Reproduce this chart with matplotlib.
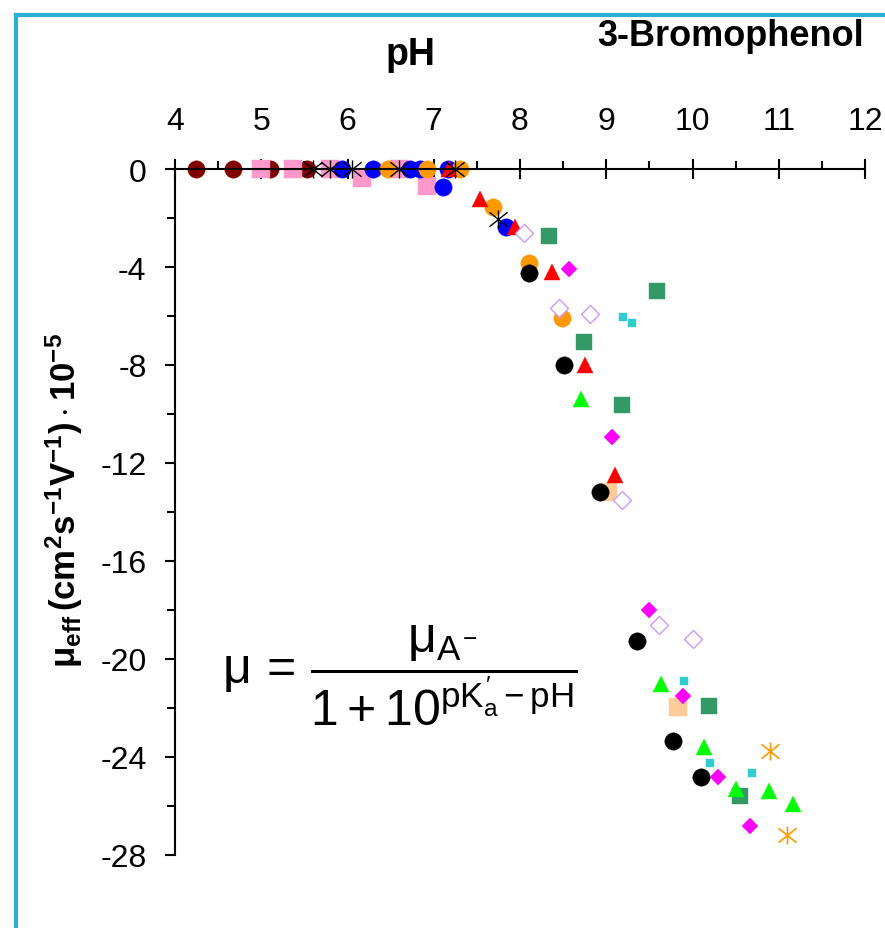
import matplotlib
matplotlib.use("Agg")
import matplotlib.pyplot as plt
from matplotlib.lines import Line2D
from matplotlib.path import Path
from matplotlib.ticker import MultipleLocator

plt.rcParams['font.family'] = ['Liberation Sans', 'DejaVu Sans']
plt.rcParams['mathtext.fontset'] = 'custom'
plt.rcParams['mathtext.rm'] = 'Liberation Sans'
plt.rcParams['mathtext.it'] = 'Liberation Sans'
plt.rcParams['mathtext.bf'] = 'Liberation Sans:bold'

# effective mobility (x1e-5 cm2/Vs) vs pH, one list pair per measurement set
darkred_ph = [4.24, 4.67, 5.10, 5.53]
darkred_mu = [0, 0, 0, 0]

pink_ph = [5.0, 5.37, 5.8, 6.17, 6.6, 6.92]
pink_mu = [0, 0, 0, -0.37, 0, -0.7]

blue_ph = [5.94, 6.3, 6.73, 6.84, 7.17, 7.11, 7.84]
blue_mu = [0, 0, 0, 0, 0, -0.73, -2.37]

orange_ph = [6.47, 6.92, 7.3, 7.69, 8.1, 8.49]
orange_mu = [0, 0, 0, -1.57, -3.83, -6.1]

peach_ph = [9.02, 9.83]
peach_mu = [-13.2, -21.97]

black_ph = [8.1, 8.51, 8.93, 9.36, 9.77, 10.1]
black_mu = [-4.24, -8.0, -13.2, -19.26, -23.35, -24.8]

red_ph = [7.18, 7.54, 7.94, 8.37, 8.75, 9.1]
red_mu = [0, -1.22, -2.37, -4.2, -8.0, -12.5]

seagreen_ph = [8.34, 9.59, 8.74, 9.18, 10.19, 10.55]
seagreen_mu = [-2.73, -4.97, -7.07, -9.63, -21.9, -25.6]

green_ph = [8.71, 9.64, 10.13, 10.51, 10.89, 11.17]
green_mu = [-9.39, -21.0, -23.6, -25.3, -25.4, -25.9]

cyan_ph = [9.19, 9.3, 9.9, 10.2, 10.69]
cyan_mu = [-6.04, -6.28, -20.9, -24.25, -24.65]

magenta_ph = [8.57, 9.07, 9.5, 9.89, 10.3, 10.67]
magenta_mu = [-4.1, -10.95, -18.0, -21.5, -24.8, -26.8]

lavender_ph = [8.05, 8.45, 8.81, 9.18, 9.61, 10.0]
lavender_mu = [-2.6, -5.67, -5.92, -13.5, -18.6, -19.2]

ostar_ph = [10.9, 11.1]
ostar_mu = [-23.76, -27.2]

kstar_ph = [5.6, 5.8, 6.05, 6.6, 7.25, 7.74]
kstar_mu = [0, 0, 0, 0, 0, -2.04]

# Excel-style star: an X with a vertical bar through it
star = Path([(-1, -0.8), (1, 0.8), (-1, 0.8), (1, -0.8), (0, -1), (0, 1)],
            [Path.MOVETO, Path.LINETO, Path.MOVETO, Path.LINETO, Path.MOVETO, Path.LINETO])

W, H = 885, 929
fig = plt.figure(figsize=(W / 100, H / 100), dpi=100)
ax = fig.add_axes([175 / W, 1 - 856 / H, 690 / W, 686 / H])


def filled(x, y, marker, color, ms):
    ax.plot(x, y, ls='none', marker=marker, ms=ms, mfc=color, mec=color,
            mew=0.3, clip_on=False)


filled(darkred_ph, darkred_mu, 'o', '#800000', 12.5)
filled(pink_ph, pink_mu, 's', '#FF99CC', 12.5)
filled(blue_ph, blue_mu, 'o', '#0000FF', 12.5)
filled(orange_ph, orange_mu, 'o', '#FF9900', 12.5)
filled(peach_ph, peach_mu, 's', '#FFCC99', 12.5)
filled(black_ph, black_mu, 'o', '#000000', 12.5)
filled(red_ph, red_mu, '^', '#FF0000', 12)
filled(seagreen_ph, seagreen_mu, 's', '#339966', 12)
filled(green_ph, green_mu, '^', '#00FF00', 12)
filled(cyan_ph, cyan_mu, 's', '#33CCCC', 6)
filled(magenta_ph, magenta_mu, 'D', '#FF00FF', 8.5)
ax.plot(lavender_ph, lavender_mu, ls='none', marker='D', ms=9.2, mfc='white',
        mec='#CC99FF', mew=1.0, clip_on=False)
ax.plot(ostar_ph, ostar_mu, ls='none', marker=star, ms=13, mfc='none',
        mec='#FF9900', mew=1.2, clip_on=False)
ax.plot(kstar_ph, kstar_mu, ls='none', marker=star, ms=13, mfc='none',
        mec='#000000', mew=1.0, clip_on=False)

ax.set_xlim(4, 12)
ax.set_ylim(-28, 0)
ax.spines['right'].set_visible(False)
ax.spines['bottom'].set_visible(False)
ax.spines['top'].set_linewidth(1.5)
ax.spines['left'].set_linewidth(1.5)

ax.xaxis.tick_top()
ax.xaxis.set_major_locator(MultipleLocator(1))
ax.xaxis.set_minor_locator(MultipleLocator(0.5))
ax.yaxis.set_major_locator(MultipleLocator(4))
ax.yaxis.set_minor_locator(MultipleLocator(2))
ax.tick_params(axis='x', which='major', direction='inout', length=14, width=1.5,
               labelsize=23, pad=17)
ax.tick_params(axis='x', which='minor', direction='out', length=6, width=1.5)
ax.tick_params(axis='y', which='major', direction='out', length=7.5, width=1.5,
               labelsize=23, pad=13)
ax.tick_params(axis='y', which='minor', direction='out', length=6, width=1.5)
ax.set_yticklabels([f'{int(v)}' for v in ax.get_yticks()])

fig.text(410 / W, 1 - 65 / H, 'pH', fontsize=27, fontweight='bold',
         ha='center', va='baseline')
fig.text(864 / W, 1 - 46 / H, '3-Bromophenol', fontsize=26, fontweight='bold',
         ha='right', va='baseline')
fig.text(64 / W, 1 - 500 / H,
         r'$\mathbf{\mu_{eff}\,(cm^{2}s^{-1}V^{-1})\cdot10^{-5}}$',
         fontsize=25, rotation=90, ha='center', va='center')
fig.text(222 / W, 1 - 676 / H,
         r'$\mu\,=\,\dfrac{\mu_{A^{-}}}{1+10^{pK_{a}^{\prime}-pH}}$',
         fontsize=36, ha='left', va='center')

# light blue frame on the left and top edges
fig.add_artist(Line2D([16 / W, 16 / W], [0, 1 - 16 / H], color='#2AAFD3', lw=3,
                      transform=fig.transFigure))
fig.add_artist(Line2D([16 / W, 1], [1 - 16 / H, 1 - 16 / H], color='#2AAFD3', lw=3,
                      transform=fig.transFigure))

fig.savefig('out.png', dpi=100)
